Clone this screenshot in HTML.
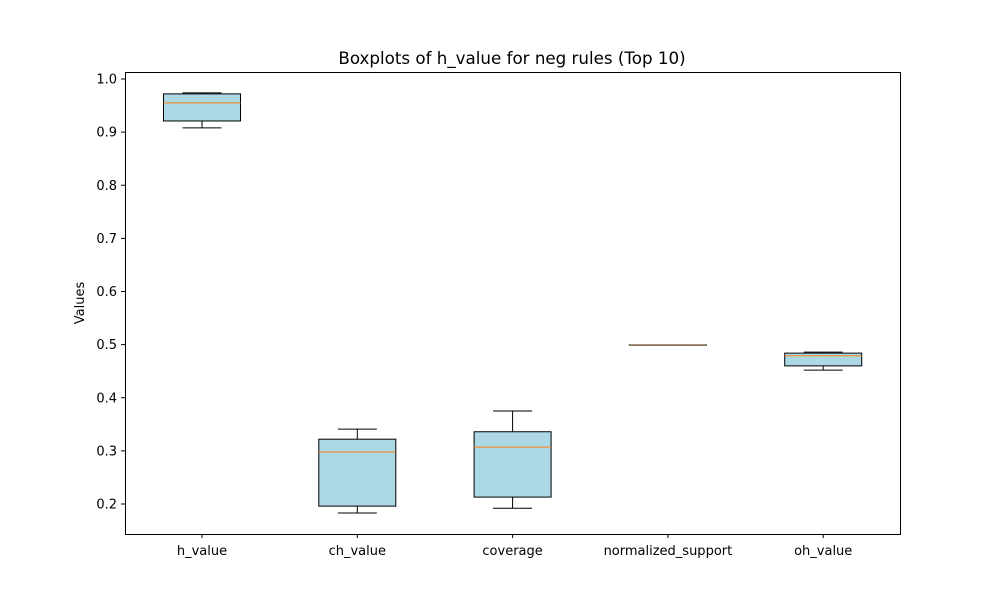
<!DOCTYPE html>
<html><head><meta charset="utf-8"><style>body{margin:0;background:#fff}svg text{font-family:"DejaVu Sans","Liberation Sans",sans-serif;fill:#000}</style></head>
<body>
<svg id="chart" width="1000" height="600" xmlns="http://www.w3.org/2000/svg">
<rect width="1000" height="600" fill="#fff"/>
<text x="512" y="64" font-size="16.7" text-anchor="middle">Boxplots of h_value for neg rules (Top 10)</text>
<text transform="translate(84,303) rotate(-90)" font-size="13" text-anchor="middle">Values</text>
<g id="plot"></g>
<rect x="125.5" y="72.5" width="775" height="462" fill="none" stroke="#000" stroke-width="1"/>
</svg>
<script>
const categories=["h_value","ch_value","coverage","normalized_support","oh_value"];
const mins=[0.908,0.183,0.192,0.5,0.452];
const q1s=[0.921,0.196,0.213,0.5,0.460];
const medians=[0.955,0.298,0.307,0.5,0.479];
const q3s=[0.972,0.322,0.336,0.5,0.484];
const maxs=[0.974,0.341,0.375,0.5,0.486];
const yTicks=[0.2,0.3,0.4,0.5,0.6,0.7,0.8,0.9,1.0];
const NS="http://www.w3.org/2000/svg";
const g=document.getElementById('plot');
const y=v=>504-(v-0.2)*531.25;
const x=i=>202+i*155.3;
function mk(t,a){const e=document.createElementNS(NS,t);for(const k in a)e.setAttribute(k,a[k]);g.appendChild(e);return e;}
yTicks.forEach(v=>{
 const l=mk('line',{x1:121,x2:125,y1:y(v),y2:y(v),stroke:'#000'});
 
 
 const t=mk('text',{x:117,y:y(v)+4.5,'font-size':13,'text-anchor':'end'});t.textContent=v.toFixed(1);
 
 
});
categories.forEach((c,i)=>{
 const cx=x(i),hw=38.5,cw=19.5;
 const t=mk('text',{x:cx,y:555,'font-size':13,'text-anchor':'middle'});t.textContent=c;
 
 
 const tk=mk('line',{x1:cx,x2:cx,y1:534,y2:538,stroke:'#000'});
 
 
 const w1=mk('line',{x1:cx,x2:cx,y1:y(mins[i]),y2:y(q1s[i]),stroke:'#000'});
 
 
 const w2=mk('line',{x1:cx,x2:cx,y1:y(q3s[i]),y2:y(maxs[i]),stroke:'#000'});
 
 
 const c1=mk('line',{x1:cx-cw,x2:cx+cw,y1:y(mins[i]),y2:y(mins[i]),stroke:'#000'});
 
 
 const c2=mk('line',{x1:cx-cw,x2:cx+cw,y1:y(maxs[i]),y2:y(maxs[i]),stroke:'#000'});
 
 
 const b=mk('rect',{x:cx-hw,y:y(q3s[i]),width:2*hw,height:Math.max(0.5,y(q1s[i])-y(q3s[i])),fill:'#add8e6',stroke:'#000'});
 
 
 const flat=q3s[i]===q1s[i];
 const m=mk('line',{x1:cx-hw,x2:cx+hw,y1:y(medians[i]),y2:y(medians[i]),stroke:flat?'#c8a07a':'#ff7f0e'});
 
 
});
</script>
</body></html>
